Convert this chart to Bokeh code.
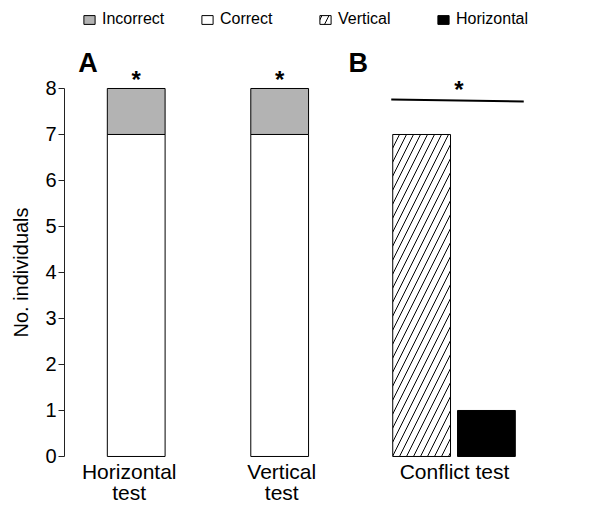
from bokeh.plotting import figure
from bokeh.models import Range1d, FixedTicker, ColumnDataSource, Legend, Title
from bokeh.core.properties import value
from bokeh.embed import file_html
from bokeh.resources import INLINE

# ---- data ----
correct = [7, 7]
incorrect = [1, 1]
conflict_choices = ["Vertical", "Horizontal"]
conflict_counts = [7, 1]
y_ticks = [0, 1, 2, 3, 4, 5, 6, 7, 8]
category_labels = ["Horizontal\ntest", "Vertical\ntest", "Conflict test"]

# ---- positions (x units = bar widths) ----
test_x = [1.241, 3.724]
conflict_x = [6.181, 7.302]
label_x = [1.12, 3.76, 6.75]

FONT = "Liberation Sans"

p = figure(width=585, height=500, output_backend="svg", toolbar_location=None,
           x_range=Range1d(0, 9.017), y_range=Range1d(-0.957, 9.913),
           min_border_left=62, min_border_right=0, min_border_top=0, min_border_bottom=0)
p.outline_line_color = None
p.xgrid.visible = False
p.ygrid.visible = False
p.xaxis.visible = False

tops_total = [c + i for c, i in zip(correct, incorrect)]
src = ColumnDataSource(dict(x=test_x, correct=correct, total=tops_total))

r_inc = p.vbar(x="x", width=1.0, bottom="correct", top="total", source=src,
               fill_color="#b3b3b3", line_color="black", line_width=1)
r_cor = p.vbar(x="x", width=1.0, bottom=0, top="correct", source=src,
               fill_color="white", line_color="black", line_width=1)

r_ver = p.vbar(x=[conflict_x[0]], width=1.0, bottom=0, top=[conflict_counts[0]],
               fill_color="white", line_color="black", line_width=1,
               hatch_pattern="/", hatch_color="black", hatch_scale=14, hatch_weight=1)
r_hor = p.vbar(x=[conflict_x[1]], width=1.0, bottom=0, top=[conflict_counts[1]],
               fill_color="black", line_color="black", line_width=1)

# significance marks
p.line(x=[5.655, 7.948], y=[7.761, 7.717], line_color="black", line_width=2)
stars = ColumnDataSource(dict(x=[test_x[0], test_x[1], 6.828], y=[8.35, 8.35, 8.13], t=["*", "*", "*"]))
p.text(x="x", y="y", text="t", source=stars, text_align="center", text_baseline="middle",
       text_font=value(FONT), text_font_size="24px", text_font_style="bold", text_color="black",
       y_offset=7)

panels = ColumnDataSource(dict(x=[0.24, 4.914], y=[8.55, 8.55], t=["A", "B"]))
p.text(x="x", y="y", text="t", source=panels, text_align="left", text_baseline="alphabetic",
       text_font=value(FONT), text_font_size="27px", text_font_style="bold", text_color="black")

# category labels under the bars (two lines each)
first_lines = [c.split("\n")[0] for c in category_labels]
second_lines = [c.split("\n")[1] if "\n" in c else "" for c in category_labels]
cats = ColumnDataSource(dict(x=label_x, y=[0, 0, 0], t1=first_lines, t2=second_lines))
p.text(x="x", y="y", text="t1", source=cats, text_align="center", text_baseline="alphabetic",
       text_font=value(FONT), text_font_size="21px", text_color="black", y_offset=15.5)
p.text(x="x", y="y", text="t2", source=cats, text_align="center", text_baseline="alphabetic",
       text_font=value(FONT), text_font_size="21px", text_color="black", y_offset=36)

# y axis
p.yaxis.ticker = FixedTicker(ticks=y_ticks)
p.yaxis.bounds = (0, 8)
p.yaxis.major_tick_out = 6
p.yaxis.major_tick_in = 0
p.yaxis.minor_tick_line_color = None
p.yaxis.axis_line_color = "#222222"
p.yaxis.major_tick_line_color = "#222222"
p.yaxis.major_label_text_font = FONT
p.yaxis.major_label_text_font_size = "20px"
p.yaxis.major_label_text_color = "black"
p.yaxis.major_label_standoff = 2

ytitle = Title(text="No. individuals", align="left", offset=163, standoff=18,
               vertical_align="top",
               text_font=FONT, text_font_size="20px", text_font_style="normal",
               text_color="black")
p.add_layout(ytitle, "left")

legend = Legend(items=[("Incorrect", [r_inc]), ("Correct", [r_cor]),
                       ("Vertical", [r_ver]), ("Horizontal", [r_hor])],
                orientation="horizontal", location=(18, 472),
                glyph_width=14, glyph_height=11, label_standoff=6, label_width=98,
                spacing=0, padding=0, margin=0, border_line_color=None,
                background_fill_alpha=0, label_text_font=FONT,
                label_text_font_size="16px", label_text_color="black")
p.add_layout(legend)

open("out.html", "w").write(file_html(p, INLINE))
